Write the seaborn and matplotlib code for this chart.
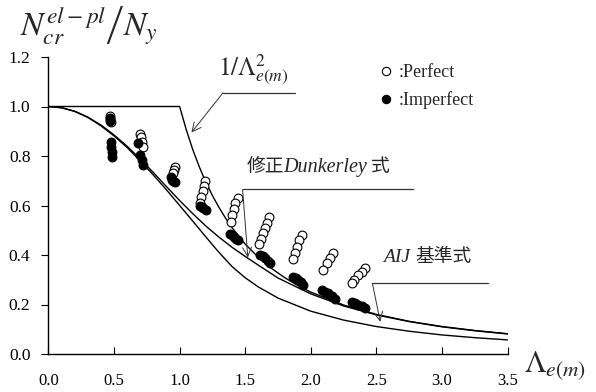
import numpy as np
import pandas as pd
import matplotlib
matplotlib.use("Agg")
import matplotlib.pyplot as plt
import seaborn as sns
from matplotlib.lines import Line2D

# ---- data -------------------------------------------------------------
# elastic buckling curve 1/Lambda^2 (capped at 1.0)
lam_el = [0.0, 1.0, 1.05, 1.1, 1.15, 1.2, 1.25, 1.3, 1.35, 1.4, 1.5, 1.6, 1.7, 1.8, 1.9,
          2.0, 2.25, 2.5, 2.75, 3.0, 3.25, 3.5]
n_el = [1.0, 1.0, 0.907, 0.826, 0.756, 0.694, 0.640, 0.592, 0.549, 0.510, 0.444, 0.391,
        0.346, 0.309, 0.277, 0.250, 0.198, 0.160, 0.132, 0.111, 0.095, 0.082]

# modified Dunkerley formula
lam_dk = [0.0, 0.1, 0.2, 0.3, 0.4, 0.5, 0.6, 0.7, 0.8, 0.9, 1.0, 1.1, 1.2, 1.3, 1.4, 1.5,
          1.6, 1.75, 2.0, 2.25, 2.5, 2.75, 3.0, 3.25, 3.5]
n_dk = [1.0, 0.995, 0.981, 0.957, 0.925, 0.885, 0.839, 0.788, 0.733, 0.676, 0.620, 0.567,
        0.517, 0.472, 0.431, 0.394, 0.359, 0.307, 0.243, 0.194, 0.158, 0.131, 0.110, 0.094, 0.081]

# AIJ design formula
lam_aij = [0.0, 0.1, 0.2, 0.3, 0.4, 0.5, 0.6, 0.7, 0.8, 0.9, 1.0, 1.1, 1.2, 1.291, 1.4, 1.5,
           1.6, 1.75, 2.0, 2.25, 2.5, 2.75, 3.0, 3.25, 3.5]
n_aij = [1.0, 0.995, 0.980, 0.956, 0.922, 0.881, 0.834, 0.780, 0.723, 0.663, 0.600, 0.537,
         0.473, 0.416, 0.353, 0.308, 0.271, 0.226, 0.173, 0.137, 0.111, 0.092, 0.077, 0.066, 0.057]

# analysis results
lam_perfect = [0.469, 0.469, 0.473,
               0.698, 0.704, 0.712, 0.719,
               0.965, 0.957, 0.947,
               1.196, 1.184, 1.175, 1.166, 1.153,
               1.442, 1.425, 1.413, 1.401, 1.388,
               1.684, 1.669, 1.651, 1.634, 1.619, 1.608,
               1.931, 1.913, 1.893, 1.880, 1.863,
               2.168, 2.147, 2.122, 2.096,
               2.414, 2.389, 2.363, 2.330, 2.313]
n_perfect = [0.962, 0.950, 0.937,
             0.890, 0.877, 0.855, 0.835,
             0.757, 0.743, 0.731,
             0.698, 0.678, 0.659, 0.636, 0.612,
             0.632, 0.612, 0.587, 0.560, 0.534,
             0.552, 0.531, 0.508, 0.488, 0.463, 0.444,
             0.481, 0.461, 0.434, 0.407, 0.383,
             0.407, 0.387, 0.366, 0.339,
             0.346, 0.333, 0.319, 0.299, 0.286]

lam_imperfect = [0.469, 0.469, 0.474, 0.474, 0.482, 0.482,
                 0.683, 0.698, 0.711, 0.719,
                 0.932, 0.940, 0.952, 0.965,
                 1.156, 1.168, 1.181, 1.201,
                 1.387, 1.402, 1.417, 1.430, 1.442,
                 1.613, 1.632, 1.651, 1.670, 1.690,
                 1.867, 1.886, 1.905, 1.925, 1.944,
                 2.084, 2.109, 2.134, 2.160, 2.185,
                 2.313, 2.338, 2.363, 2.389, 2.414]
n_imperfect = [0.955, 0.941, 0.858, 0.838, 0.817, 0.797,
               0.853, 0.804, 0.784, 0.764,
               0.716, 0.703, 0.700, 0.696,
               0.598, 0.594, 0.589, 0.582,
               0.485, 0.479, 0.473, 0.466, 0.459,
               0.400, 0.394, 0.387, 0.377, 0.366,
               0.312, 0.306, 0.299, 0.289, 0.279,
               0.259, 0.252, 0.245, 0.233, 0.221,
               0.211, 0.205, 0.198, 0.192, 0.185]

x_ticks = [0.0, 0.5, 1.0, 1.5, 2.0, 2.5, 3.0, 3.5]
y_ticks = [0.0, 0.2, 0.4, 0.6, 0.8, 1.0, 1.2]

# ---- style ------------------------------------------------------------
sns.set_theme(style="white")
plt.rcParams["font.family"] = ["Liberation Serif", "Noto Sans CJK JP"]
plt.rcParams["mathtext.fontset"] = "stix"

fig = plt.figure(figsize=(5.96, 3.92), dpi=100)
ax = fig.add_axes([48.5 / 596, 38 / 392, 459 / 596, 297 / 392])

curves = pd.concat([
    pd.DataFrame({"lam": lam_el, "n": n_el, "curve": "elastic"}),
    pd.DataFrame({"lam": lam_dk, "n": n_dk, "curve": "dunkerley"}),
    pd.DataFrame({"lam": lam_aij, "n": n_aij, "curve": "aij"}),
])
sns.lineplot(data=curves, x="lam", y="n", units="curve", estimator=None, sort=False,
             color="black", lw=1.0, ax=ax, legend=False)

perf = pd.DataFrame({"lam": lam_perfect, "n": n_perfect})
imp = pd.DataFrame({"lam": lam_imperfect, "n": n_imperfect})
sns.scatterplot(data=perf, x="lam", y="n", marker="o", s=40, facecolor="white",
                edgecolor="black", linewidth=0.8, ax=ax, zorder=3)
sns.scatterplot(data=imp, x="lam", y="n", marker="o", s=40, facecolor="black",
                edgecolor="black", linewidth=0.8, ax=ax, zorder=4)

ax.set_xlim(0, 3.5)
ax.set_ylim(0, 1.2)
ax.set_xticks(x_ticks)
ax.set_yticks(y_ticks)
ax.set_xticklabels([f"{v:.1f}" for v in x_ticks])
ax.set_yticklabels([f"{v:.1f}" for v in y_ticks])
ax.set_xlabel("")
ax.set_ylabel("")
for s in ("top", "right"):
    ax.spines[s].set_visible(False)
for s in ("left", "bottom"):
    ax.spines[s].set_color("black")
    ax.spines[s].set_linewidth(1.0)
ax.tick_params(axis="x", direction="in", length=5, width=0.8, pad=14,
               labelsize=12, colors="black", bottom=True)
ax.tick_params(axis="y", direction="out", length=5, width=0.8, pad=8,
               labelsize=12.5, colors="black", left=True)

# axis titles
fig.text(20 / 596, 1 - 4 / 392, r"$\left. N_{cr}^{el-pl}\right/ N_y$", fontsize=24,
         ha="left", va="top")
fig.text(524 / 596, 1 - 366 / 392, r"$\Lambda_{e(m)}$", fontsize=22, ha="left",
         va="center")

# callouts
arrow = dict(arrowstyle="->", color="#333333", lw=0.7, mutation_scale=16,
             shrinkA=0, shrinkB=0)
ax.annotate("", xy=(1.09, 0.895), xytext=(1.33, 1.055), arrowprops=arrow)
ax.plot([1.33, 1.88], [1.055, 1.055], color="#333333", lw=0.9)
ax.text(1.29, 1.08, r"$1/\Lambda^2_{e(m)}$", fontsize=18, ha="left", va="bottom")

ax.annotate("", xy=(1.52, 0.39), xytext=(1.48, 0.665), arrowprops=arrow)
ax.plot([1.48, 2.78], [0.665, 0.665], color="#333333", lw=0.9)
ax.text(1.51, 0.755, "修正", fontsize=13.5, ha="left", va="center")
ax.text(1.79, 0.755, "Dunkerley", fontsize=14.5, style="italic", ha="left", va="center")
ax.text(2.46, 0.755, "式", fontsize=13.5, ha="left", va="center")

ax.annotate("", xy=(2.53, 0.13), xytext=(2.47, 0.285), arrowprops=arrow)
ax.plot([2.47, 3.35], [0.285, 0.285], color="#333333", lw=0.9)
ax.text(2.55, 0.39, "AIJ", fontsize=14, style="italic", ha="left", va="center")
ax.text(2.80, 0.39, "基準式", fontsize=13.5, ha="left", va="center")

handles = [
    Line2D([], [], marker="o", ls="none", mfc="white", mec="black", ms=6, mew=0.8),
    Line2D([], [], marker="o", ls="none", mfc="black", mec="black", ms=6, mew=0.8),
]
fig.legend(handles, [":Perfect", ":Imperfect"], loc="upper left",
           bbox_to_anchor=(370 / 596, 1 - 55 / 392), frameon=False, fontsize=13,
           handlelength=0.8, handletextpad=0.3, labelspacing=0.55, borderpad=0)

fig.savefig("out.png", dpi=100)
